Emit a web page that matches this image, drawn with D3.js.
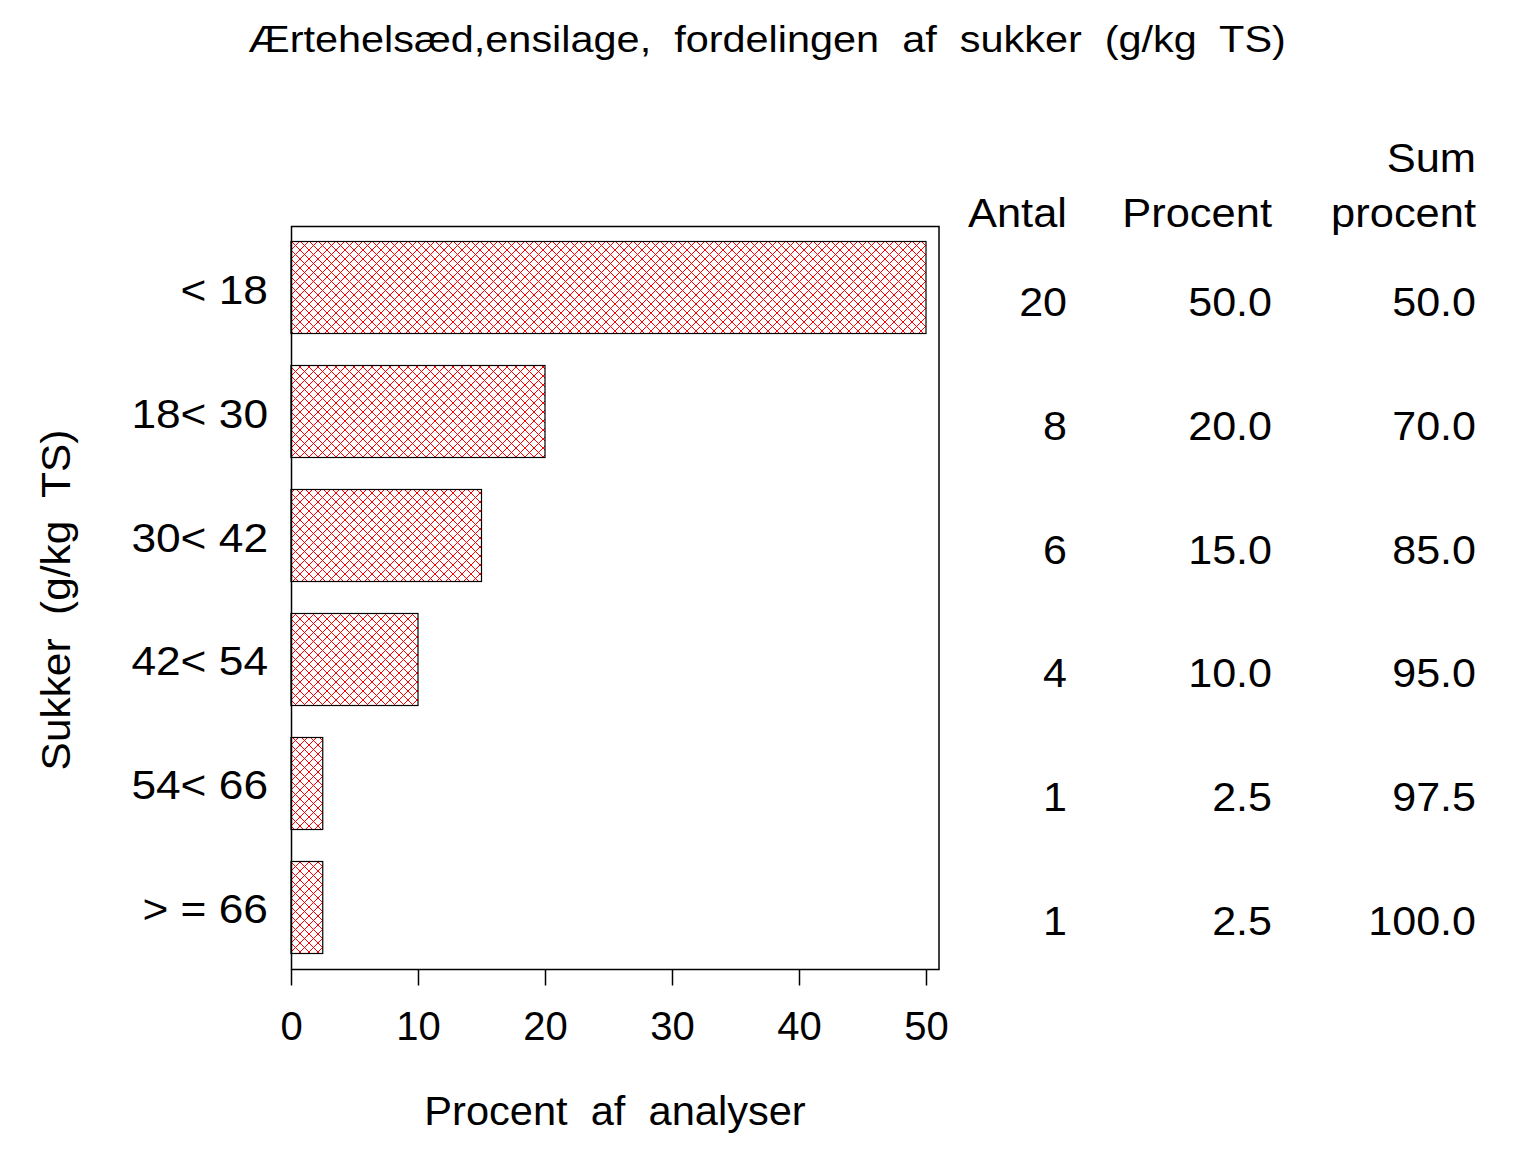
<!DOCTYPE html>
<html><head><meta charset="utf-8">
<script src="https://cdn.jsdelivr.net/npm/d3@7"></script>
<style>body{margin:0;background:#fff}svg{display:block}text{font-family:"Liberation Sans",Arial,sans-serif;fill:#000}</style>
</head><body>
<script>
const categories = ["< 18", "18< 30", "30< 42", "42< 54", "54< 66", "> = 66"];
const antal = [20, 8, 6, 4, 1, 1];
const procent = [50.0, 20.0, 15.0, 10.0, 2.5, 2.5];
const sumProcent = [50.0, 70.0, 85.0, 95.0, 97.5, 100.0];
const xTicks = [0, 10, 20, 30, 40, 50];

const W = 1536, H = 1152;
const svg = d3.select("body").append("svg").attr("width", W).attr("height", H);

const defs = svg.append("defs");
const pat = defs.append("pattern").attr("id", "hatch").attr("patternUnits", "userSpaceOnUse")
  .attr("width", 9).attr("height", 9).attr("x", 291).attr("y", 241);
pat.append("path").attr("d", "M0,0L9,9M9,0L0,9M-1,8L1,10M8,-1L10,1M-1,1L1,-1M8,10L10,8")
  .attr("stroke", "#ff0000").attr("stroke-width", 1).attr("fill", "none");

const x = d3.scaleLinear().domain([0, 50]).range([291, 926]);
const y = d3.scaleBand().domain(categories).range([226, 969]).paddingInner(0.258).paddingOuter(0.125);

// title
svg.append("text").attr("transform", "translate(767,52) scale(1.12,1)").attr("text-anchor", "middle")
  .attr("font-size", 37).style("white-space", "pre")
  .text("Ærtehelsæd,ensilage,  fordelingen  af  sukker  (g/kg  TS)");

// bars
svg.append("g").selectAll("rect").data(categories).join("rect")
  .attr("x", x(0)).attr("y", d => y(d))
  .attr("width", (d, i) => x(procent[i]) - x(0)).attr("height", y.bandwidth())
  .attr("fill", "url(#hatch)").attr("stroke", "#000").attr("stroke-width", 1.2);

// frame
svg.append("rect").attr("x", 291.5).attr("y", 226.5).attr("width", 647.5).attr("height", 743)
  .attr("fill", "none").attr("stroke", "#000").attr("stroke-width", 1.5);

// x axis
const xAxis = d3.axisBottom(x).tickValues(xTicks).tickSize(16).tickPadding(16).tickFormat(d3.format("d"));
const gx = svg.append("g").attr("transform", "translate(0,969.5)").call(xAxis);
gx.select(".domain").remove();
gx.selectAll("line").attr("stroke", "#000").attr("stroke-width", 1.5);
gx.selectAll("text").attr("font-size", 40).attr("font-family", "Liberation Sans, Arial, sans-serif").attr("fill", "#000").attr("dy", "0.95em");

// y labels
svg.append("g").selectAll("text").data(categories).join("text")
  .attr("transform", d => `translate(268,${y(d) + y.bandwidth() / 2 + 16}) scale(1.08,1)`)
  .attr("text-anchor", "end").attr("font-size", 41).style("white-space", "pre").text(d => d);

// axis titles
svg.append("text").attr("transform", "translate(615,1125) scale(1.04,1)").attr("text-anchor", "middle")
  .attr("font-size", 40).style("white-space", "pre").text("Procent  af  analyser");
svg.append("text").attr("transform", "translate(70,600) rotate(-90) scale(1.06,1)").attr("text-anchor", "middle")
  .attr("font-size", 40).style("white-space", "pre").text("Sukker  (g/kg  TS)");

// table
const cols = [
  {x: 1067, vals: antal.map(d => String(d)), head: ["", "Antal"]},
  {x: 1272, vals: procent.map(d => d.toFixed(1)), head: ["", "Procent"]},
  {x: 1476, vals: sumProcent.map(d => d.toFixed(1)), head: ["Sum", "procent"]}
];
cols.forEach(c => {
  svg.append("text").attr("transform", `translate(${c.x},172) scale(1.06,1)`).attr("text-anchor", "end").attr("font-size", 41).text(c.head[0]);
  svg.append("text").attr("transform", `translate(${c.x},227) scale(1.06,1)`).attr("text-anchor", "end").attr("font-size", 41).text(c.head[1]);
  svg.append("g").selectAll("text").data(categories).join("text")
    .attr("transform", d => `translate(${c.x},${y(d) + y.bandwidth() / 2 + 28}) scale(1.05,1)`)
    .attr("text-anchor", "end").attr("font-size", 41)
    .text((d, i) => c.vals[i]);
});
</script>
</body></html>
